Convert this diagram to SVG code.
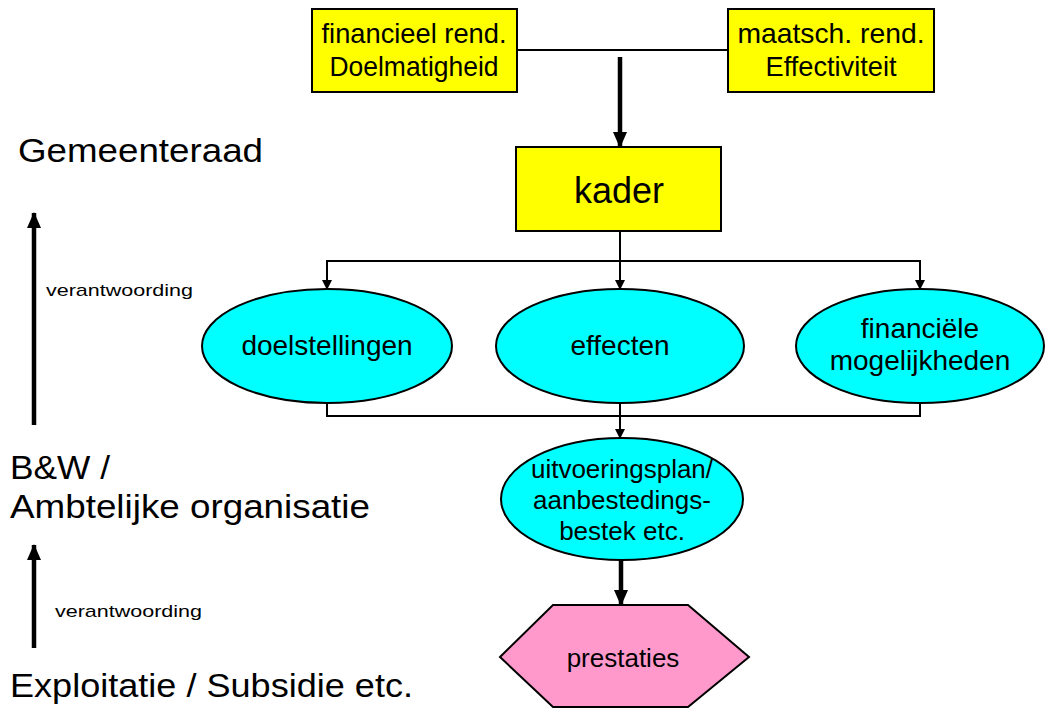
<svg xmlns="http://www.w3.org/2000/svg" width="1045" height="710" viewBox="0 0 1045 710">
<defs>
<marker id="sm" markerWidth="10" markerHeight="10" refX="9" refY="5" orient="auto" markerUnits="userSpaceOnUse" viewBox="0 0 10 10"><path d="M0,0 L10,5 L0,10 Z" fill="#000"/></marker>
<marker id="bg" markerWidth="16" markerHeight="14" refX="15" refY="7" orient="auto" markerUnits="userSpaceOnUse" viewBox="0 0 16 14"><path d="M0,0 L16,7 L0,14 Z" fill="#000"/></marker>
</defs>
<style>
text{font-family:"Liberation Sans",Arial,sans-serif;fill:#000}
.box{fill:#FFFF00;stroke:#000;stroke-width:2}
.ell{fill:#00FFFF;stroke:#000;stroke-width:2}
.hex{fill:#FF99CC;stroke:#000;stroke-width:2}
.thin{stroke:#000;stroke-width:2;fill:none}
.thick{stroke:#000;stroke-width:4.5;fill:none}
.n{font-size:26px;text-anchor:middle}
.c{font-size:28px;text-anchor:middle}
.side{font-size:33px}
.small{font-size:17px}
</style>
<rect width="1045" height="710" fill="#fff"/>
<g id="connectors">
<line class="thin" x1="517" y1="50" x2="728" y2="50"/>
<line class="thick" x1="620" y1="57" x2="620" y2="147" marker-end="url(#bg)"/>
<line class="thin" x1="620" y1="231" x2="620" y2="289" marker-end="url(#sm)"/>
<line class="thin" x1="326" y1="261" x2="921" y2="261"/>
<line class="thin" x1="327" y1="261" x2="327" y2="289" marker-end="url(#sm)"/>
<line class="thin" x1="920" y1="261" x2="920" y2="289" marker-end="url(#sm)"/>
<polyline class="thin" points="327,403 327,416 920,416 920,403"/>
<line class="thin" x1="620" y1="403" x2="620" y2="438" marker-end="url(#sm)"/>
<line class="thick" x1="621" y1="560" x2="621" y2="605" marker-end="url(#bg)"/>
<line class="thick" x1="34" y1="425" x2="34" y2="213" marker-end="url(#bg)"/>
<line class="thick" x1="34" y1="648" x2="34" y2="545" marker-end="url(#bg)"/>
</g>
<g id="financieel">
<rect class="box" x="312" y="9" width="205" height="83"/>
<text class="c" x="414" y="43" textLength="185" lengthAdjust="spacingAndGlyphs">financieel rend.</text>
<text class="c" x="414" y="76" textLength="169" lengthAdjust="spacingAndGlyphs">Doelmatigheid</text>
</g>
<g id="maatsch">
<rect class="box" x="728" y="9" width="206" height="83"/>
<text class="c" x="831" y="43" textLength="187" lengthAdjust="spacingAndGlyphs">maatsch. rend.</text>
<text class="c" x="831" y="76" textLength="131" lengthAdjust="spacingAndGlyphs">Effectiviteit</text>
</g>
<g id="kader">
<rect class="box" x="516" y="147" width="205" height="84"/>
<text x="619" y="203" font-size="36" text-anchor="middle">kader</text>
</g>
<g id="doelstellingen">
<ellipse class="ell" cx="327" cy="346" rx="125" ry="57"/>
<text class="c" x="327" y="355">doelstellingen</text>
</g>
<g id="effecten">
<ellipse class="ell" cx="620" cy="346" rx="124" ry="57"/>
<text class="c" x="620" y="355">effecten</text>
</g>
<g id="financiele">
<ellipse class="ell" cx="920" cy="346" rx="124" ry="57"/>
<text class="c" x="920" y="338">financiële</text>
<text class="c" x="920" y="370">mogelijkheden</text>
</g>
<g id="uitvoeringsplan">
<ellipse class="ell" cx="622" cy="499" rx="121" ry="61"/>
<text class="n" x="622" y="478">uitvoeringsplan/</text>
<text class="n" x="622" y="509">aanbestedings-</text>
<text class="n" x="622" y="540">bestek etc.</text>
</g>
<g id="prestaties">
<polygon class="hex" points="500,657 553,605 688,605 749,657 688,707 553,707"/>
<text class="n" x="623" y="667">prestaties</text>
</g>
<g id="labels">
<text class="side" x="18" y="162" textLength="245" lengthAdjust="spacingAndGlyphs">Gemeenteraad</text>
<text class="small" x="46" y="296" textLength="147" lengthAdjust="spacingAndGlyphs">verantwoording</text>
<text class="side" x="10" y="479" textLength="100" lengthAdjust="spacingAndGlyphs">B&amp;W /</text>
<text class="side" x="10" y="518" textLength="360" lengthAdjust="spacingAndGlyphs">Ambtelijke organisatie</text>
<text class="small" x="55" y="617" textLength="147" lengthAdjust="spacingAndGlyphs">verantwoording</text>
<text class="side" x="10" y="697" textLength="403" lengthAdjust="spacingAndGlyphs">Exploitatie / Subsidie etc.</text>
</g>
</svg>
